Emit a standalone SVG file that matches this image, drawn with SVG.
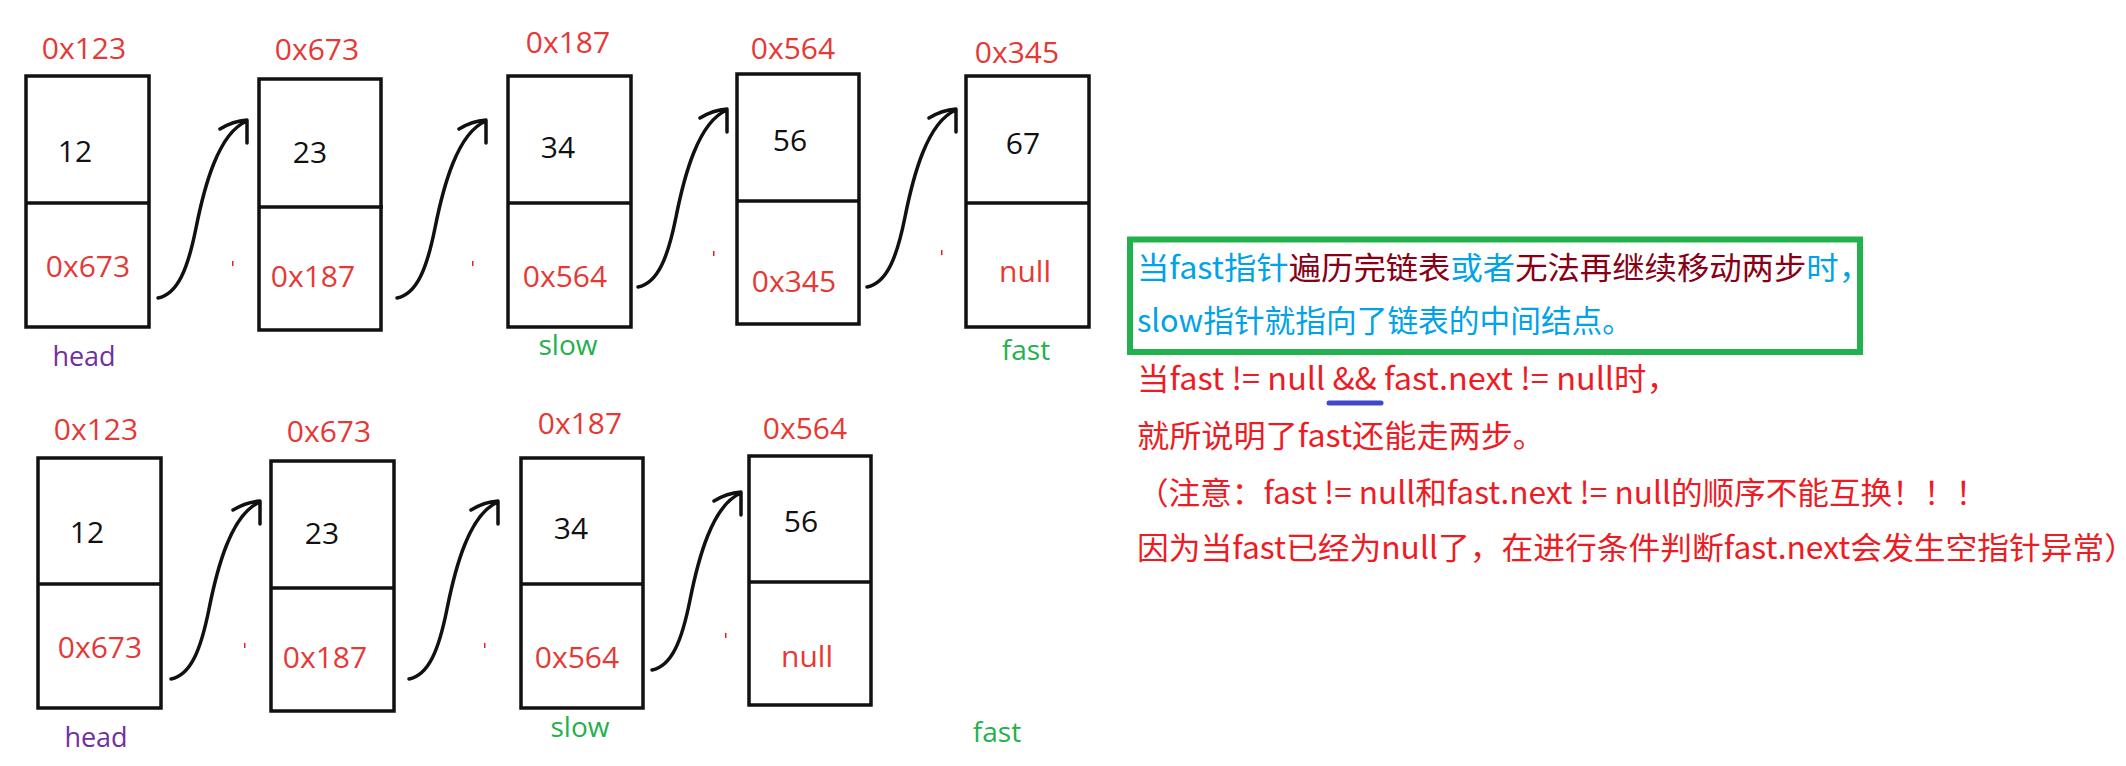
<svg xmlns="http://www.w3.org/2000/svg" xmlns:xlink="http://www.w3.org/1999/xlink" width="2126" height="766" viewBox="0 0 2126 766">
<style>
.box{fill:#fff;stroke:#111;stroke-width:3.5}
.div{stroke:#111;stroke-width:3.5}
.addr{font-family:"Open Sans","Noto Sans",sans-serif;font-size:30px;fill:#e53935;text-anchor:middle}
.val{font-family:"Open Sans","Noto Sans",sans-serif;font-size:30px;fill:#111;text-anchor:middle}
.head{font-family:"Open Sans","Noto Sans",sans-serif;font-size:27px;fill:#7030a0;text-anchor:middle}
.ptr{font-family:"Open Sans","Noto Sans",sans-serif;font-size:28px;fill:#22b14c;text-anchor:middle}
.arr{fill:none;stroke:#111;stroke-width:3.5;stroke-linecap:round;stroke-linejoin:round}
.note{font-family:"Noto Sans CJK SC","Noto Sans",sans-serif;font-size:31px}
.b{fill:#00a2e8}.m{fill:#880015}.r{fill:#ed1c24}
.tick{fill:#ed1c24}
</style>
<defs>
<path id="arrow" class="arr" d="M0,0 C20,-4 30,-30 38,-70 S60,-165 89,-177 M62,-169 Q75,-177 89,-178 L89,-155"/>
</defs>
<rect width="2126" height="766" fill="#fff"/>

<!-- top row -->
<g id="t1">
<text class="addr" x="84" y="59">0x123</text>
<rect class="box" x="26" y="76" width="123" height="251"/>
<line class="div" x1="26" y1="203" x2="150" y2="203"/>
<text class="val" x="75" y="162">12</text>
<text class="addr" x="88" y="277">0x673</text>
<text class="head" x="84" y="366">head</text>
</g>
<g id="t2">
<text class="addr" x="317" y="60">0x673</text>
<rect class="box" x="259" y="79" width="122" height="251"/>
<line class="div" x1="259" y1="207" x2="383" y2="207"/>
<text class="val" x="310" y="163">23</text>
<text class="addr" x="313" y="287">0x187</text>
</g>
<g id="t3">
<text class="addr" x="568" y="53">0x187</text>
<rect class="box" x="508" y="76" width="123" height="251"/>
<line class="div" x1="508" y1="203" x2="632" y2="203"/>
<text class="val" x="558" y="158">34</text>
<text class="addr" x="565" y="287">0x564</text>
<text class="ptr" x="568" y="355">slow</text>
</g>
<g id="t4">
<text class="addr" x="793" y="59">0x564</text>
<rect class="box" x="737" y="74" width="122" height="250"/>
<line class="div" x1="737" y1="201" x2="860" y2="201"/>
<text class="val" x="790" y="151">56</text>
<text class="addr" x="794" y="292">0x345</text>
</g>
<g id="t5">
<text class="addr" x="1017" y="63">0x345</text>
<rect class="box" x="966" y="76" width="123" height="251"/>
<line class="div" x1="966" y1="203" x2="1090" y2="203"/>
<text class="val" x="1023" y="154">67</text>
<text class="addr" x="1025" y="282">null</text>
<text class="ptr" x="1026" y="360">fast</text>
</g>

<!-- bottom row -->
<g id="b1">
<text class="addr" x="96" y="440">0x123</text>
<rect class="box" x="38" y="458" width="123" height="250"/>
<line class="div" x1="38" y1="584" x2="162" y2="584"/>
<text class="val" x="87" y="543">12</text>
<text class="addr" x="100" y="658">0x673</text>
<text class="head" x="96" y="747">head</text>
</g>
<g id="b2">
<text class="addr" x="329" y="442">0x673</text>
<rect class="box" x="271" y="461" width="123" height="250"/>
<line class="div" x1="271" y1="588" x2="395" y2="588"/>
<text class="val" x="322" y="544">23</text>
<text class="addr" x="325" y="668">0x187</text>
</g>
<g id="b3">
<text class="addr" x="580" y="434">0x187</text>
<rect class="box" x="521" y="458" width="122" height="250"/>
<line class="div" x1="521" y1="584" x2="644" y2="584"/>
<text class="val" x="571" y="539">34</text>
<text class="addr" x="577" y="668">0x564</text>
<text class="ptr" x="580" y="737">slow</text>
</g>
<g id="b4">
<text class="addr" x="805" y="439">0x564</text>
<rect class="box" x="749" y="456" width="122" height="249"/>
<line class="div" x1="749" y1="582" x2="872" y2="582"/>
<text class="val" x="801" y="532">56</text>
<text class="addr" x="807" y="667">null</text>
</g>
<g id="bfast">
<text class="ptr" x="997" y="742">fast</text>
</g>

<!-- connectors -->
<g id="connectors">
<use xlink:href="#arrow" transform="translate(158,298)"/>
<use xlink:href="#arrow" transform="translate(397,298)"/>
<use xlink:href="#arrow" transform="translate(638,287)"/>
<use xlink:href="#arrow" transform="translate(867,287)"/>
<use xlink:href="#arrow" transform="translate(171,679)"/>
<use xlink:href="#arrow" transform="translate(409,679)"/>
<use xlink:href="#arrow" transform="translate(652,670)"/>
</g>

<!-- stray marks -->
<g id="marks">
<rect class="tick" x="232" y="261" width="1.5" height="5"/>
<rect class="tick" x="472" y="261" width="1.5" height="5"/>
<rect class="tick" x="713" y="251" width="1.5" height="5"/>
<rect class="tick" x="941" y="250" width="1.5" height="5"/>
<rect class="tick" x="244" y="643" width="1.5" height="5"/>
<rect class="tick" x="484" y="643" width="1.5" height="5"/>
<rect class="tick" x="725" y="633" width="1.5" height="5"/>
</g>

<!-- note -->
<g id="note">
<rect x="1130" y="239.5" width="730" height="112.5" fill="none" stroke="#22b14c" stroke-width="6"/>
<text class="note" x="1137" y="279" textLength="734" lengthAdjust="spacingAndGlyphs"><tspan class="b">当fast指针</tspan><tspan class="m">遍历完链表</tspan><tspan class="b">或者</tspan><tspan class="m">无法再继续移动两步</tspan><tspan class="b">时，</tspan></text>
<text class="note b" x="1137" y="332" textLength="496" lengthAdjust="spacingAndGlyphs">slow指针就指向了链表的中间结点。</text>
<text class="note r" x="1137" y="390" textLength="542" lengthAdjust="spacingAndGlyphs">当fast != null &amp;&amp; fast.next != null时，</text>
<line x1="1329" y1="403" x2="1381" y2="403" stroke="#3f48cc" stroke-width="5" stroke-linecap="round"/>
<text class="note r" x="1137" y="447" textLength="408" lengthAdjust="spacingAndGlyphs">就所说明了fast还能走两步。</text>
<text class="note r" x="1137" y="504" textLength="850" lengthAdjust="spacingAndGlyphs">（注意：fast != null和fast.next != null的顺序不能互换！！！</text>
<text class="note r" x="1137" y="559" textLength="999" lengthAdjust="spacingAndGlyphs">因为当fast已经为null了，在进行条件判断fast.next会发生空指针异常）</text>
</g>
</svg>
